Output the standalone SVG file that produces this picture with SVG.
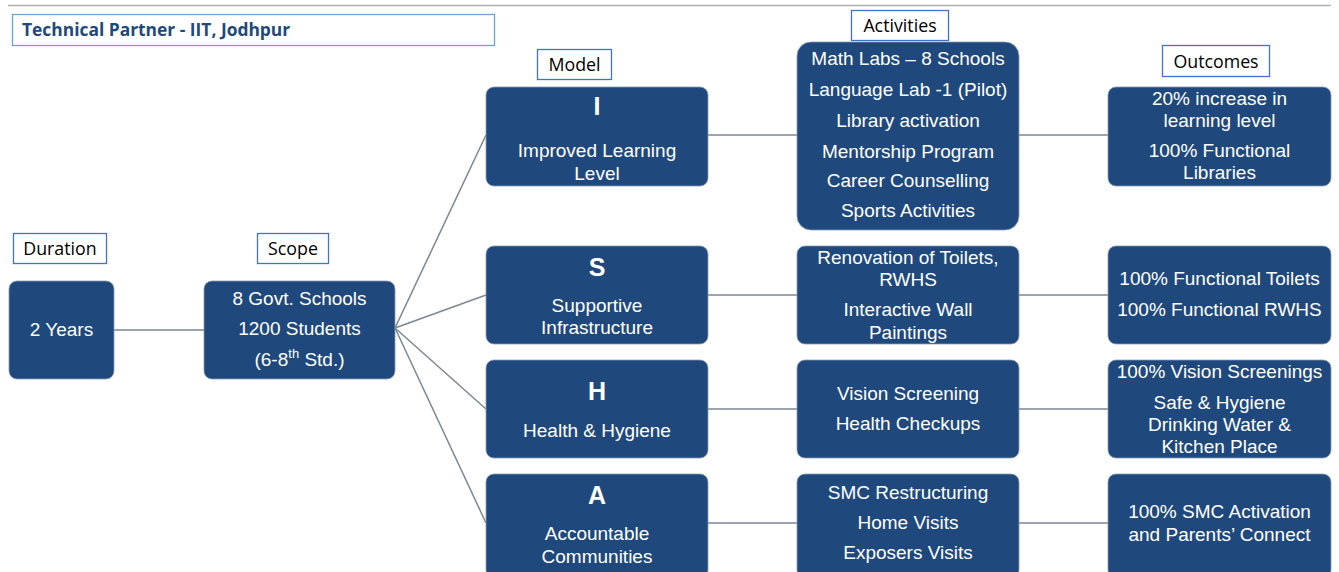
<svg xmlns="http://www.w3.org/2000/svg" width="1339" height="572" viewBox="0 0 1339 572">
<style>
.bg{fill:#ffffff}
.lbl rect{fill:#ffffff;stroke:#4472c4;stroke-width:1.3}
.lbl text{font-family:"Open Sans","Liberation Sans",sans-serif;font-size:17.8px;fill:#000;text-anchor:middle}
.node rect{fill:#1f497d;stroke:#8a9bb5;stroke-width:0.8}
.node text{font-family:"Liberation Sans",Arial,sans-serif;font-size:19px;fill:#ffffff;text-anchor:middle;dominant-baseline:central}
.node text.big{font-size:25px;font-weight:bold}
.conn line{stroke:#7a8794;stroke-width:1.5}
</style>
<rect class="bg" x="0" y="0" width="1339" height="572"/>
<line x1="8" y1="5.5" x2="1331" y2="5.5" stroke="#b0b0b0" stroke-width="1.5"/>

<g id="title">
<rect x="12.5" y="14.5" width="482" height="31" fill="#fff" stroke="#6fa0d8" stroke-width="1.3"/>
<text x="22" y="36" font-family="Open Sans,Liberation Sans,sans-serif" font-size="17.4" font-weight="bold" fill="#1f497d">Technical Partner - IIT, Jodhpur</text>
</g>

<g id="label-duration" class="lbl"><rect x="13.5" y="233.5" width="93" height="30"/><text x="60" y="254.5">Duration</text></g>
<g id="label-scope" class="lbl"><rect x="257.5" y="233.5" width="71" height="30"/><text x="293" y="254.5">Scope</text></g>
<g id="label-model" class="lbl"><rect x="537.5" y="49.5" width="74" height="30"/><text x="574.5" y="70.5">Model</text></g>
<g id="label-activities" class="lbl"><rect x="851.5" y="10.5" width="97" height="30"/><text x="900" y="31.5">Activities</text></g>
<g id="label-outcomes" class="lbl"><rect x="1162.5" y="45.5" width="107" height="31"/><text x="1216" y="67.5">Outcomes</text></g>

<g id="connectors" class="conn">
<line x1="114" y1="330" x2="204" y2="330"/>
<line x1="395" y1="328" x2="486" y2="135"/>
<line x1="395" y1="328" x2="486" y2="295"/>
<line x1="395" y1="328" x2="486" y2="409"/>
<line x1="395" y1="328" x2="486" y2="523"/>
<line x1="708" y1="135" x2="797" y2="135"/>
<line x1="1019" y1="135" x2="1108" y2="135"/>
<line x1="708" y1="295" x2="797" y2="295"/>
<line x1="1019" y1="295" x2="1108" y2="295"/>
<line x1="708" y1="409" x2="797" y2="409"/>
<line x1="1019" y1="409" x2="1108" y2="409"/>
<line x1="708" y1="523" x2="797" y2="523"/>
<line x1="1019" y1="523" x2="1108" y2="523"/>
</g>

<g id="node-duration" class="node"><rect x="9" y="281" width="105" height="98" rx="8"/><text x="61.5" y="329">2 Years</text></g>
<g id="node-scope" class="node"><rect x="204" y="281" width="191" height="98" rx="8"/>
<text x="299.5" y="298">8 Govt. Schools</text>
<text x="299.5" y="328">1200 Students</text>
<text x="299.5" y="359">(6-8<tspan font-size="13" dy="-6">th</tspan><tspan dy="6"> Std.)</tspan></text>
</g>

<g id="node-I" class="node"><rect x="486" y="87" width="222" height="99" rx="8"/>
<text class="big" x="597" y="106">I</text>
<text x="597" y="150">Improved Learning</text>
<text x="597" y="173">Level</text>
</g>
<g id="node-act-I" class="node"><rect x="797" y="42" width="222" height="188" rx="14"/>
<text x="908" y="58">Math Labs – 8 Schools</text>
<text x="908" y="89">Language Lab -1 (Pilot)</text>
<text x="908" y="120">Library activation</text>
<text x="908" y="151">Mentorship Program</text>
<text x="908" y="180">Career Counselling</text>
<text x="908" y="210">Sports Activities</text>
</g>
<g id="node-out-I" class="node"><rect x="1108" y="87" width="223" height="99" rx="8"/>
<text x="1219.5" y="98">20% increase in</text>
<text x="1219.5" y="120">learning level</text>
<text x="1219.5" y="150">100% Functional</text>
<text x="1219.5" y="172">Libraries</text>
</g>

<g id="node-S" class="node"><rect x="486" y="246" width="222" height="98" rx="8"/>
<text class="big" x="597" y="267">S</text>
<text x="597" y="305">Supportive</text>
<text x="597" y="327">Infrastructure</text>
</g>
<g id="node-act-S" class="node"><rect x="797" y="246" width="222" height="98" rx="8"/>
<text x="908" y="257">Renovation of Toilets,</text>
<text x="908" y="279">RWHS</text>
<text x="908" y="309">Interactive Wall</text>
<text x="908" y="332">Paintings</text>
</g>
<g id="node-out-S" class="node"><rect x="1108" y="246" width="223" height="98" rx="8"/>
<text x="1219.5" y="278">100% Functional Toilets</text>
<text x="1219.5" y="309">100% Functional RWHS</text>
</g>

<g id="node-H" class="node"><rect x="486" y="360" width="222" height="98" rx="8"/>
<text class="big" x="597" y="391">H</text>
<text x="597" y="430">Health &amp; Hygiene</text>
</g>
<g id="node-act-H" class="node"><rect x="797" y="360" width="222" height="98" rx="8"/>
<text x="908" y="393">Vision Screening</text>
<text x="908" y="423">Health Checkups</text>
</g>
<g id="node-out-H" class="node"><rect x="1108" y="360" width="223" height="98" rx="8"/>
<text x="1219.5" y="371">100% Vision Screenings</text>
<text x="1219.5" y="402">Safe &amp; Hygiene</text>
<text x="1219.5" y="424">Drinking Water &amp;</text>
<text x="1219.5" y="446">Kitchen Place</text>
</g>

<g id="node-A" class="node"><rect x="486" y="474" width="222" height="104" rx="8"/>
<text class="big" x="597" y="495">A</text>
<text x="597" y="533">Accountable</text>
<text x="597" y="556">Communities</text>
</g>
<g id="node-act-A" class="node"><rect x="797" y="474" width="222" height="104" rx="8"/>
<text x="908" y="492">SMC Restructuring</text>
<text x="908" y="522">Home Visits</text>
<text x="908" y="552">Exposers Visits</text>
</g>
<g id="node-out-A" class="node"><rect x="1108" y="474" width="223" height="104" rx="8"/>
<text x="1219.5" y="511">100% SMC Activation</text>
<text x="1219.5" y="534">and Parents’ Connect</text>
</g>
</svg>
